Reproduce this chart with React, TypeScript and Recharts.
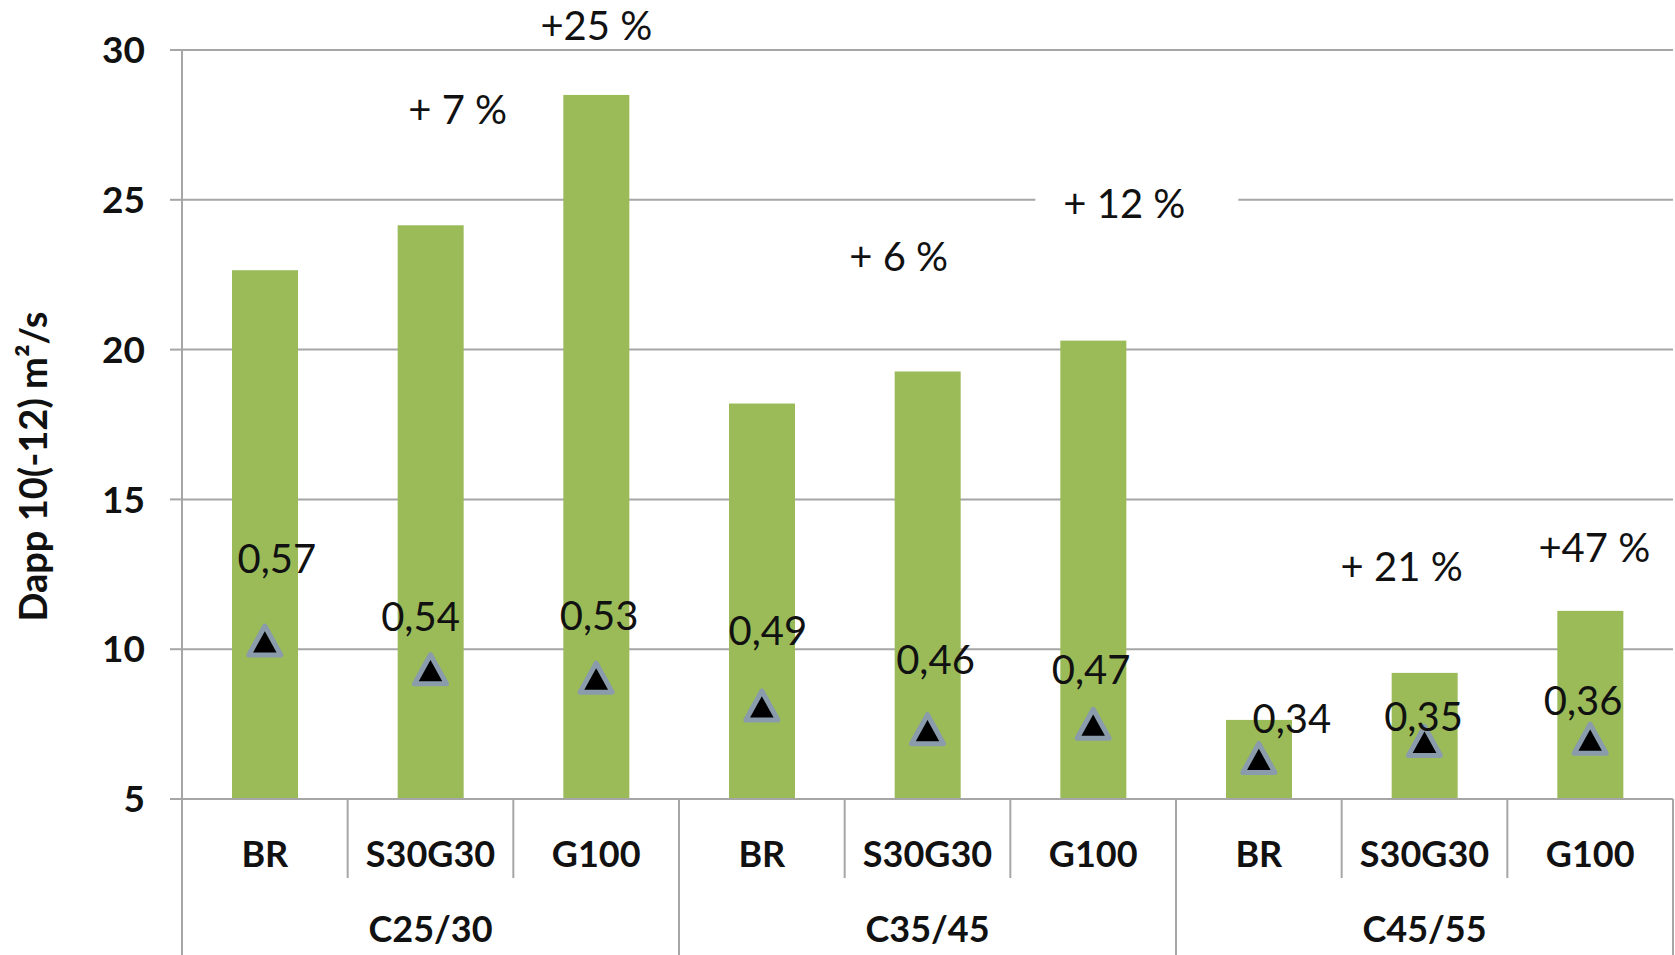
import React from 'react';
import { ComposedChart, Bar, Line, XAxis, YAxis, CartesianGrid, Label } from 'recharts';

// ---------- data ----------
const samples = ['BR', 'S30G30', 'G100', 'BR', 'S30G30', 'G100', 'BR', 'S30G30', 'G100'];
const groups = ['C25/30', 'C25/30', 'C25/30', 'C35/45', 'C35/45', 'C35/45', 'C45/55', 'C45/55', 'C45/55'];
const dappValues = [22.65, 24.15, 28.5, 18.2, 19.27, 20.3, 7.64, 9.21, 11.28];
const markerValues = [10.24, 9.28, 9.0, 8.07, 7.28, 7.46, 6.32, 6.89, 6.96];
const ratioLabels = ['0,57', '0,54', '0,53', '0,49', '0,46', '0,47', '0,34', '0,35', '0,36'];
const increaseLabels = ['', '+ 7 %', '+25 %', '', '+ 6 %', '+ 12 %', '', '+ 21 %', '+47 %'];
const yTicks = [5, 10, 15, 20, 25, 30];
const yTitle = 'Dapp 10(-12) m²/s';

const data = samples.map((s, i) => ({
  sample: s,
  group: groups[i],
  dapp: dappValues[i],
  marker: markerValues[i],
  ratio: ratioLabels[i],
  inc: increaseLabels[i],
}));

// ---------- layout & style ----------
const W = 1675;
const H = 955;
const MARGIN = { top: 50, right: 2, bottom: 0, left: 0 };
const Y_AXIS_W = 182;
const X_AXIS_H = 156;
const CAT_W = (W - MARGIN.left - MARGIN.right - Y_AXIS_W) / samples.length;
const FONT = 'Lato, "Open Sans", sans-serif';
const GRID = '#a6a6a6';
const GREEN = '#9bbb59';
const TEXT = '#111';

// label offsets (pixels) relative to anchor point
const ratioDx = [12, -10, 3, 6, 8, -2, 33, -1, -7];
const ratioDy = [-83, -54, -64, -76, -71, -56, -41, -26, -40];
const incDx = [0, 27, 0, 0, -29, 31, 0, -23, 4];
const incDy = [0, -116, -69, 0, -115, -137, 0, -106, -63];
const boxedIndex = 5;

const findIndex = (payload: any, index: any, list: string[], key: string) => {
  if (typeof index === 'number') return index;
  return list.indexOf(payload?.[key]);
};

const BarShape = (props: any) => {
  const { x, y, width, height, index, payload } = props;
  const i = findIndex(payload, index, increaseLabels, 'inc');
  const text = increaseLabels[i];
  const cx = x + width / 2;
  return (
    <g>
      <rect x={x} y={y} width={width} height={height} fill={GREEN} />
      {text ? (
        <g>
          {i === boxedIndex ? (
            <rect x={cx + incDx[i] - 89} y={y + incDy[i] - 26} width={203} height={52} fill="#fff" />
          ) : null}
          <text
            x={cx + incDx[i]}
            y={y + incDy[i]}
            dy="0.36em"
            textAnchor="middle"
            fontSize={40}
            fontFamily={FONT}
            fill={TEXT}
          >
            {text}
          </text>
        </g>
      ) : null}
    </g>
  );
};

const TriangleDot = (props: any) => {
  const { cx, cy, index, payload } = props;
  if (cx == null || cy == null) return <g key={`n-${index}`} />;
  const i = findIndex(payload, index, ratioLabels, 'ratio');
  return (
    <g key={`tri-${i}`}>
      <path
        d={`M${cx},${cy - 16} L${cx + 16},${cy + 13} L${cx - 16},${cy + 13} Z`}
        fill="#000"
        stroke="#8a9cab"
        strokeWidth={5}
        strokeLinejoin="round"
      />
      <text
        x={cx + ratioDx[i]}
        y={cy + ratioDy[i]}
        dy="0.36em"
        textAnchor="middle"
        fontSize={40}
        fontFamily={FONT}
        fill={TEXT}
      >
        {ratioLabels[i]}
      </text>
    </g>
  );
};

const XTick = (props: any) => {
  const { x, y, payload, index } = props;
  const i = typeof index === 'number' ? index : payload?.index ?? 0;
  const left = x - CAT_W / 2;
  const right = x + CAT_W / 2;
  const isGroupStart = i % 3 === 0;
  const isLast = i === samples.length - 1;
  return (
    <g>
      <line x1={left} x2={left} y1={y} y2={isGroupStart ? y + X_AXIS_H : y + 79} stroke={GRID} strokeWidth={2} />
      {isLast ? <line x1={right} x2={right} y1={y} y2={y + X_AXIS_H} stroke={GRID} strokeWidth={2} /> : null}
      <text x={x} y={y + 55} dy="0.36em" textAnchor="middle" fontSize={36} fontWeight="bold" fontFamily={FONT} fill={TEXT}>
        {payload.value}
      </text>
      {i % 3 === 1 ? (
        <text x={x} y={y + 130} dy="0.36em" textAnchor="middle" fontSize={36} fontWeight="bold" fontFamily={FONT} fill={TEXT}>
          {groups[i]}
        </text>
      ) : null}
    </g>
  );
};

const YTitle = (props: any) => {
  const vb = props.viewBox || { x: 0, y: MARGIN.top, width: Y_AXIS_W, height: H - MARGIN.top - X_AXIS_H };
  const tx = vb.x + 47;
  const ty = vb.y + vb.height / 2 + 42;
  return (
    <text
      x={tx}
      y={ty}
      transform={`rotate(-90 ${tx} ${ty})`}
      textAnchor="middle"
      fontSize={38}
      fontWeight="bold"
      fontFamily={FONT}
      fill={TEXT}
    >
      {yTitle}
    </text>
  );
};

export default function App() {
  return (
    <div style={{ position: 'absolute', left: 0, top: 0, width: W, height: H, background: '#fff' }}>
      <ComposedChart width={W} height={H} data={data} margin={MARGIN}>
        <CartesianGrid horizontal vertical={false} stroke={GRID} strokeWidth={2} />
        <XAxis
          dataKey="sample"
          interval={0}
          height={X_AXIS_H}
          tickLine={false}
          tickSize={0}
          tickMargin={0}
          axisLine={{ stroke: GRID, strokeWidth: 2 }}
          tick={<XTick />}
        />
        <YAxis
          width={Y_AXIS_W}
          domain={[5, 30]}
          ticks={yTicks}
          interval={0}
          axisLine={{ stroke: GRID, strokeWidth: 2 }}
          tickLine={{ stroke: GRID, strokeWidth: 2 }}
          tickSize={12}
          tickMargin={25}
          tick={{ fontSize: 37, fontWeight: 'bold', fontFamily: FONT, fill: TEXT }}
        >
          <Label content={<YTitle />} />
        </YAxis>
        <Bar dataKey="dapp" barSize={66} shape={<BarShape />} isAnimationActive={false} />
        <Line
          dataKey="marker"
          stroke="none"
          dot={TriangleDot}
          activeDot={false}
          isAnimationActive={false}
        />
      </ComposedChart>
    </div>
  );
}
